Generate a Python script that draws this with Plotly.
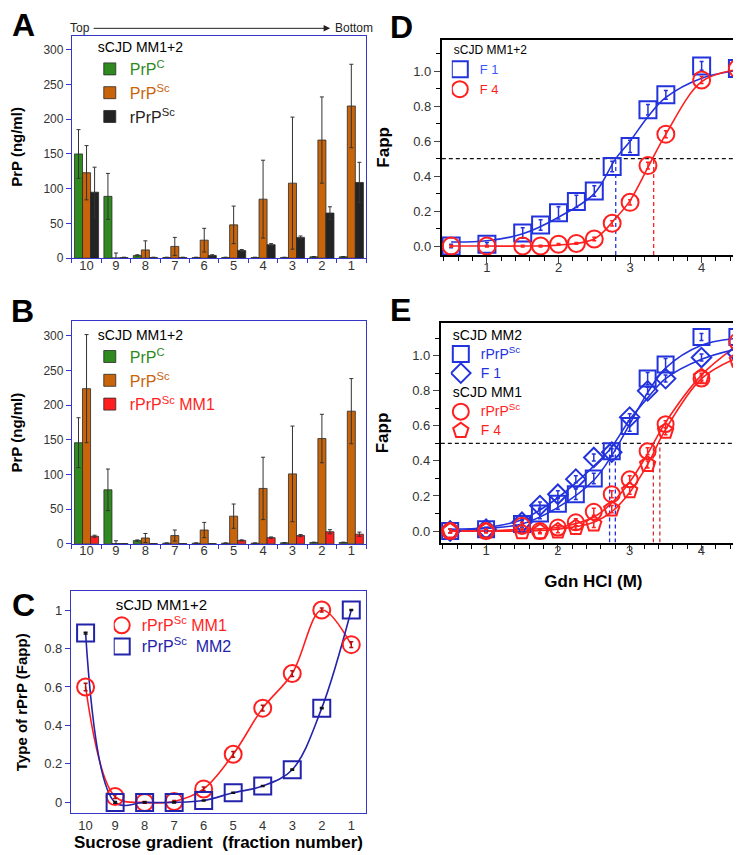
import plotly.graph_objects as go

W, H = 741, 855
FONT = "Arial, Liberation Sans, Helvetica, sans-serif"
BOX = "#3535c8"
GREEN = "#2f8a1f"
ORANGE = "#c8640a"
BLACK = "#232323"
RED = "#ff1f1f"
BLUE = "#2233dd"
NAVY = "#2222aa"

# ---- A / B : sucrose gradient fractions (top -> bottom)
fractions = ["10", "9", "8", "7", "6", "5", "4", "3", "2", "1"]

a_prpc = [150, 89, 4, 1, 1, 1, 1, 1, 2, 2]
a_prpc_err = [35, 33, 1, 0.5, 0.5, 0.5, 0.5, 0.5, 0.5, 0.5]
a_prpsc = [123, 0.5, 12, 17, 26, 48, 85, 108, 170, 219]
a_prpsc_err = [39, 7, 13, 13, 17, 27, 56, 95, 62, 60]
a_rprpsc = [95, 1, 1, 1, 4, 11, 19.5, 30, 65, 109]
a_rprpsc_err = [36, 0.5, 0.5, 0.5, 1, 1.5, 1.5, 2, 9, 29]

b_prpc = [146, 78, 4.7, 1, 1, 1, 1, 1.5, 2, 2]
b_prpc_err = [36, 30, 1, 0.5, 0.5, 0.5, 0.5, 0.5, 0.5, 0.5]
b_prpsc = [224, 0.5, 8.5, 12, 20, 40, 80, 101, 152, 191.5]
b_prpsc_err = [78, 4, 6.5, 8, 11, 17.5, 45, 69, 35, 47]
b_rprpsc_mm1 = [11, 0.5, 0.5, 0.5, 0.5, 5, 9, 12, 17.5, 14]
b_rprpsc_mm1_err = [1.5, 0, 0, 0, 0, 0.8, 1, 1.5, 3, 3]

# ---- C : type of rPrPSc per fraction (Fapp)
c_mm1 = [0.60, 0.03, 0.0, 0.005, 0.07, 0.25, 0.49, 0.67, 1.0, 0.82]
c_mm1_err = [0.02, 0.01, 0.005, 0.005, 0.01, 0.015, 0.015, 0.015, 0.01, 0.015]
c_mm2 = [0.88, 0.0, 0.0, 0.0, 0.01, 0.05, 0.085, 0.17, 0.49, 1.0]
c_mm2_err = [0.005, 0.005, 0.003, 0.003, 0.003, 0.003, 0.003, 0.003, 0.003, 0.003]

# ---- D / E : GdnHCl denaturation
gdn = [0.5, 1.0, 1.5, 1.75, 2.0, 2.25, 2.5, 2.75, 3.0, 3.25, 3.5, 4.0, 4.5]

d_f1 = [0.0, 0.01, 0.075, 0.12, 0.19, 0.255, 0.315, 0.455, 0.57, 0.78, 0.865, 1.03, 1.015]
d_f1_err = [0.01, 0.01, 0.03, 0.03, 0.035, 0.035, 0.03, 0.03, 0.035, 0.03, 0.025, 0.025, 0.01]
d_f4 = [0.0, 0.0, 0.0, 0.0, 0.01, 0.015, 0.04, 0.13, 0.25, 0.46, 0.64, 0.95, 1.015]
d_f4_err = [0.005, 0.005, 0.005, 0.005, 0.005, 0.005, 0.01, 0.015, 0.015, 0.02, 0.02, 0.02, 0.01]
d_fit_x = [0.5, 1.0, 1.5, 2.0, 2.5, 2.8, 3.0, 3.25, 3.5, 4.0, 4.5]
d_f1_fit = [0.023, 0.03, 0.07, 0.165, 0.3, 0.5, 0.6, 0.74, 0.85, 0.96, 1.005]
d_f4_fit = [0.0, 0.0, 0.0, 0.005, 0.04, 0.16, 0.26, 0.45, 0.64, 0.94, 1.01]
d_mid = [2.8, 3.33]

e_mm2_r = [0.0, 0.01, 0.04, 0.1, 0.155, 0.21, 0.3, 0.456, 0.6, 0.87, 0.95, 1.107, 1.107]
e_mm2_r_err = [0.01, 0.01, 0.02, 0.03, 0.03, 0.03, 0.03, 0.03, 0.03, 0.035, 0.035, 0.02, 0.02]
e_mm2_f1 = [0.0, 0.01, 0.05, 0.145, 0.21, 0.296, 0.42, 0.45, 0.65, 0.8, 0.87, 0.99, 1.015]
e_mm2_f1_err = [0.01, 0.01, 0.02, 0.02, 0.02, 0.02, 0.02, 0.02, 0.02, 0.02, 0.02, 0.02, 0.02]
e_mm1_r = [0.0, 0.0, 0.03, 0.0, 0.02, 0.05, 0.11, 0.21, 0.295, 0.456, 0.61, 0.87, 1.08]
e_mm1_r_err = [0.01, 0.01, 0.02, 0.01, 0.01, 0.02, 0.02, 0.02, 0.02, 0.02, 0.02, 0.02, 0.02]
e_mm1_f4 = [0.0, 0.0, -0.005, -0.005, 0.0, 0.02, 0.04, 0.125, 0.23, 0.38, 0.57, 0.88, 0.975]
e_mm1_f4_err = [0.01, 0.01, 0.01, 0.01, 0.01, 0.01, 0.02, 0.02, 0.02, 0.02, 0.02, 0.02, 0.02]
e_fit_x = [0.5, 1.0, 1.5, 2.0, 2.5, 2.75, 3.0, 3.25, 3.5, 4.0, 4.5]
e_mm2_r_fit = [0.0, 0.015, 0.04, 0.135, 0.29, 0.43, 0.61, 0.79, 0.93, 1.06, 1.1]
e_mm2_f1_fit = [0.01, 0.02, 0.065, 0.19, 0.37, 0.48, 0.635, 0.76, 0.87, 0.98, 1.04]
e_mm1_r_fit = [0.0, 0.0, 0.01, 0.02, 0.08, 0.16, 0.28, 0.44, 0.62, 0.89, 1.06]
e_mm1_f4_fit = [0.0, 0.0, 0.0, 0.01, 0.05, 0.11, 0.22, 0.38, 0.58, 0.87, 0.99]
e_mid_mm2 = [2.72, 2.8]
e_mid_mm1 = [3.33, 3.42]

half = 0.5
de_xrange = [0.37, 4.62]
d_yrange = [-0.051, 1.18]
e_yrange = [-0.066, 1.185]


def col(text, color, size=None):
    style = f"color:{color}"
    if size:
        style += f";font-size:{size}px"
    return f'<span style="{style}">{text}</span>'


fig = go.Figure()


def add_bars(values, errors, color, name, ax, legend):
    fig.add_trace(go.Bar(
        x=fractions, y=values, name=name,
        marker=dict(color=color, line=dict(color="#2a2a2a", width=0.8)),
        error_y=dict(type="data", array=errors, color="#333333", thickness=1, width=2),
        xaxis="x" + ax, yaxis="y" + ax, legend=legend,
    ))


add_bars(a_prpc, a_prpc_err, GREEN, col("PrP<sup>C</sup>", GREEN), "", "legend")
add_bars(a_prpsc, a_prpsc_err, ORANGE, col("PrP<sup>Sc</sup>", ORANGE), "", "legend")
add_bars(a_rprpsc, a_rprpsc_err, BLACK, col("rPrP<sup>Sc</sup>", BLACK), "", "legend")
add_bars(b_prpc, b_prpc_err, GREEN, col("PrP<sup>C</sup>", GREEN), "2", "legend2")
add_bars(b_prpsc, b_prpsc_err, ORANGE, col("PrP<sup>Sc</sup>", ORANGE), "2", "legend2")
add_bars(b_rprpsc_mm1, b_rprpsc_mm1_err, RED, col("rPrP<sup>Sc</sup> MM1", RED), "2", "legend2")


def add_curve(x, y, color, ax):
    fig.add_trace(go.Scatter(
        x=x, y=y, mode="lines", line=dict(color=color, width=1.6, shape="spline"),
        showlegend=False, hoverinfo="skip", xaxis="x" + ax, yaxis="y" + ax,
    ))


def add_points(x, y, err, color, symbol, size, name, ax, legend, err_color=None):
    fig.add_trace(go.Scatter(
        x=x, y=y, mode="markers", name=name,
        marker=dict(symbol=symbol, size=size, color=color, line=dict(color=color, width=2)),
        error_y=dict(type="data", array=err, color=err_color or color, thickness=1.5, width=2),
        xaxis="x" + ax, yaxis="y" + ax, legend=legend,
    ))


def add_dashed(x, y, color, ax):
    fig.add_trace(go.Scatter(
        x=x, y=y, mode="lines", line=dict(color=color, width=1.3, dash="4px,3px"),
        showlegend=False, hoverinfo="skip", xaxis="x" + ax, yaxis="y" + ax,
    ))


# C
add_curve(fractions, c_mm1, RED, "3")
add_curve(fractions, c_mm2, NAVY, "3")
add_points(fractions, c_mm1, c_mm1_err, RED, "circle-open", 17,
           col("rPrP<sup>Sc</sup> MM1", RED, 16), "3", "legend3", err_color="#b01010")
add_points(fractions, c_mm2, c_mm2_err, NAVY, "square-open", 17,
           col("rPrP<sup>Sc</sup>\u00a0 MM2", NAVY, 16), "3", "legend3", err_color="#111111")

# D
add_dashed(de_xrange, [half, half], "#111111", "4")
for m, c in zip(d_mid, [BLUE, RED]):
    add_dashed([m, m], [d_yrange[0], half], c, "4")
add_curve(d_fit_x, d_f1_fit, BLUE, "4")
add_curve(d_fit_x, d_f4_fit, RED, "4")
add_points(gdn, d_f1, d_f1_err, BLUE, "square-open", 17, col("F 1", "#3b5bff"), "4", "legend4")
add_points(gdn, d_f4, d_f4_err, RED, "circle-open", 17, col("F 4", RED), "4", "legend4")

# E
add_dashed(de_xrange, [half, half], "#111111", "5")
for m in e_mid_mm2:
    add_dashed([m, m], [e_yrange[0], half], BLUE, "5")
for m in e_mid_mm1:
    add_dashed([m, m], [e_yrange[0], half], "#d03030", "5")
add_curve(e_fit_x, e_mm2_r_fit, BLUE, "5")
add_curve(e_fit_x, e_mm2_f1_fit, BLUE, "5")
add_curve(e_fit_x, e_mm1_r_fit, RED, "5")
add_curve(e_fit_x, e_mm1_f4_fit, RED, "5")
add_points(gdn, e_mm2_r, e_mm2_r_err, BLUE, "square-open", 16, col("rPrP<sup>Sc</sup>", BLUE, 14), "5", "legend5")
add_points(gdn, e_mm2_f1, e_mm2_f1_err, BLUE, "diamond-open", 15, col("F 1", BLUE, 14), "5", "legend5")
add_points(gdn, e_mm1_r, e_mm1_r_err, RED, "circle-open", 16, col("rPrP<sup>Sc</sup>", RED, 14), "5", "legend6")
add_points(gdn, e_mm1_f4, e_mm1_f4_err, RED, "pentagon-open", 16, col("F 4", RED, 14), "5", "legend6")


def dom_x(left, right):
    return [left / W, right / W]


def dom_y(top, bottom):
    return [1 - bottom / H, 1 - top / H]


tick_font = dict(family=FONT, size=12, color="#333333")
title_font = dict(family=FONT, size=15, color="black", weight="bold")


def cat_x(domain, anchor, title=None, boundaries=True):
    ax = dict(
        domain=domain, anchor=anchor, type="category", categoryorder="array",
        categoryarray=fractions, range=[-0.5, 9.5], ticks="outside", ticklen=4,
        tickcolor=BOX, showline=True, linecolor=BOX, linewidth=1, mirror=True,
        showgrid=False, zeroline=False, tickfont=dict(family=FONT, size=13, color="#333333"),
        ticklabelstandoff=-5,
    )
    if boundaries:
        ax["tickson"] = "boundaries"
    else:
        ax["ticks"] = ""
        ax["ticklabelstandoff"] = 0
    if title:
        ax["title"] = dict(text=title, font=dict(family=FONT, size=17, color="black", weight="bold"), standoff=4)
    return ax


def bar_y(domain, anchor, rng):
    return dict(
        domain=domain, anchor=anchor, range=rng, dtick=50, ticks="outside", ticklen=5,
        tickcolor=BOX, showline=True, linecolor=BOX, linewidth=1, mirror=True,
        showgrid=False, zeroline=False, tickfont=tick_font,
        title=dict(text="PrP (ng/ml)", font=title_font, standoff=25),
    )


def gdn_axes(xdom, ydom, anchor_x, anchor_y, yrng, xtitle=None, xstand=0):
    xa = dict(
        domain=xdom, anchor=anchor_y, range=de_xrange, dtick=1, tick0=0, ticks="outside",
        ticklen=6, tickwidth=1.2, showline=True, linecolor="black", linewidth=2, mirror=True,
        showgrid=False, zeroline=False, tickfont=dict(family=FONT, size=13, color="#333333"),
        minor=dict(dtick=0.2, tick0=0, ticks="outside", ticklen=4, tickcolor="black", showgrid=False),
        ticklabelstandoff=xstand,
    )
    if xtitle:
        xa["title"] = dict(text=xtitle, font=dict(family=FONT, size=17, color="black", weight="bold"), standoff=18)
    ya = dict(
        domain=ydom, anchor=anchor_x, range=yrng, dtick=0.2, tick0=0, tickformat=".1f",
        ticks="outside", ticklen=6, tickwidth=1.2, showline=True, linecolor="black", linewidth=2,
        mirror=True, showgrid=False, zeroline=False,
        tickfont=dict(family=FONT, size=13, color="#333333"),
        minor=dict(dtick=0.1, tick0=0, ticks="outside", ticklen=4, tickcolor="black", showgrid=False),
        title=dict(text="Fapp", font=dict(family=FONT, size=17, color="black", weight="bold"), standoff=19),
    )
    return xa, ya


xd, yd = gdn_axes(dom_x(433, 738), dom_y(32, 249), "x4", "y4", d_yrange, xstand=-7)
xe, ye = gdn_axes(dom_x(432, 738), dom_y(318, 539), "x5", "y5", e_yrange, "Gdn HCl (M)", xstand=-11)


def legend_box(x, y_top, title, size=14, title_size=14, indent=0):
    return dict(
        x=x / W, y=1 - y_top / H, xanchor="left", yanchor="top",
        bgcolor="rgba(0,0,0,0)", borderwidth=0, traceorder="normal", indentation=indent,
        font=dict(family=FONT, size=size, color="black"),
        title=dict(text=title, font=dict(family=FONT, size=title_size, color="black")),
    )


letters = [("A", 13.5, 17), ("B", 13, 305), ("C", 14, 601.5), ("D", 392.5, 19), ("E", 392, 304)]
annotations = [
    dict(text=t, x=x / W, y=1 - y / H, xref="paper", yref="paper", showarrow=False, height=30,
         xanchor="center", yanchor="middle", font=dict(family=FONT, size=32, color="black", weight="bold"))
    for t, x, y in letters
]
annotations += [
    dict(text="Top", x=58 / W, y=1 - 20.5 / H, xref="paper", yref="paper", showarrow=False,
         xanchor="left", yanchor="middle", font=dict(family=FONT, size=12, color="#222")),
    dict(text="Bottom", x=324 / W, y=1 - 20.5 / H, xref="paper", yref="paper", showarrow=False,
         xanchor="left", yanchor="middle", font=dict(family=FONT, size=12, color="#222")),
    dict(text="", x=321 / W, y=1 - 20.5 / H, xref="paper", yref="paper", showarrow=True,
         ax=-238, ay=0, arrowhead=2, arrowsize=1.3, arrowwidth=1, arrowcolor="#222"),
]

c_y = dict(
    domain=dom_y(588, 812), anchor="x3", range=[-0.057, 1.098], dtick=0.2, ticks="outside",
    ticklen=5, tickcolor=BOX, showline=True, linecolor=BOX, linewidth=1, mirror=True,
    showgrid=False, zeroline=False, tickfont=dict(family=FONT, size=13, color="#333333"),
    title=dict(text="Type of rPrP (Fapp)", font=dict(family=FONT, size=15, color="black", weight="bold"), standoff=12),
)

fig.update_layout(
    width=W, height=H,
    margin=dict(l=0, r=0, t=0, b=0),
    paper_bgcolor="white", plot_bgcolor="white",
    font=dict(family=FONT, color="#222"),
    barmode="group", bargap=0.18, bargroupgap=0,
    xaxis=cat_x(dom_x(62, 357), "y"),
    yaxis=bar_y(dom_y(28, 252.3), "x", [0, 320]),
    xaxis2=cat_x(dom_x(62, 357), "y2"),
    yaxis2=bar_y(dom_y(316, 540.3), "x2", [0, 321]),
    xaxis3=cat_x(dom_x(61, 357), "y3", "Sucrose gradient \u00a0(fraction number)", boundaries=False),
    yaxis3=c_y,
    xaxis4=xd, yaxis4=yd,
    xaxis5=xe, yaxis5=ye,
    legend=legend_box(86, 26, "sCJD MM1+2", size=16, indent=-6),
    legend2=legend_box(86, 316, "sCJD MM1+2", size=16, indent=-6),
    legend3=legend_box(104, 587, "sCJD MM1+2", size=14, title_size=15, indent=-12),
    legend4=legend_box(443, 31, "sCJD MM1+2", size=13, title_size=12, indent=-12),
    legend5=legend_box(442, 316, "sCJD MM2", size=12, indent=-10),
    legend6=legend_box(442, 374, "sCJD MM1", size=12, indent=-10),
    annotations=annotations,
    showlegend=True,
)

fig.write_html("out.html")
